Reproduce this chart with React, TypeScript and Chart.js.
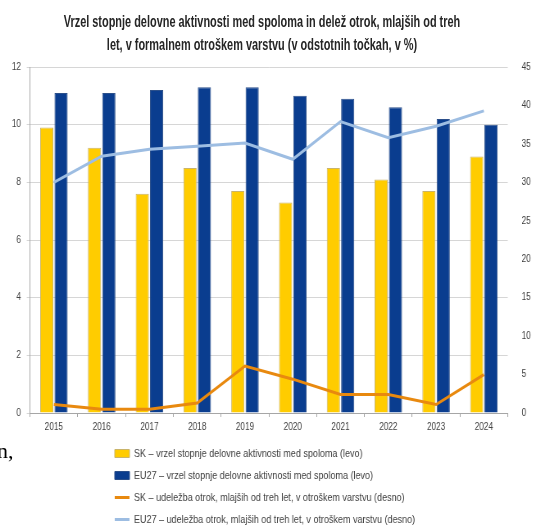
import React, { useEffect, useRef } from "react";
import { Chart, registerables } from "chart.js";

Chart.register(...registerables);

const years = ["2015", "2016", "2017", "2018", "2019", "2020", "2021", "2022", "2023", "2024"];
const skGap = [9.9, 9.2, 7.6, 8.5, 7.7, 7.3, 8.5, 8.1, 7.7, 8.9];
const euGap = [11.1, 11.1, 11.2, 11.3, 11.3, 11.0, 10.9, 10.6, 10.2, 10.0];
const skChildcare = [1.1, 0.5, 0.5, 1.3, 6.1, 4.4, 2.4, 2.4, 1.1, 5.0];
const euChildcare = [30.0, 33.4, 34.3, 34.7, 35.1, 33.0, 37.9, 35.8, 37.3, 39.3];

const titleLines = [
  "Vrzel stopnje delovne aktivnosti med spoloma in delež otrok, mlajših od treh",
  "let, v formalnem otroškem varstvu (v odstotnih točkah, v %)",
];
const seriesLabels = [
  "SK – vrzel stopnje delovne aktivnosti med spoloma (levo)",
  "EU27 – vrzel stopnje delovne aktivnosti med spoloma (levo)",
  "SK – udeležba otrok, mlajših od treh let, v otroškem varstvu (desno)",
  "EU27 – udeležba otrok, mlajših od treh let, v otroškem varstvu (desno)",
];

const FONT = "'Liberation Sans', Arial, sans-serif";
const TEXT = "#404040";
const SX = 0.8196; // horizontal squeeze of the whole chart
const LOGICAL_W = 654;

const legendShift = {
  id: "legendShift",
  beforeLayout(chart: any) {
    const lg = chart.legend;
    if (lg && !lg._oneColumn) {
      const orig = lg.fit.bind(lg);
      lg.fit = function () {
        const mw = this.maxWidth;
        this.maxWidth = 400; // force one item per row
        orig();
        this.maxWidth = mw;
        this.width = mw;
      };
      lg._oneColumn = true;
    }
  },
  afterLayout(chart: any) {
    if (chart.legend) {
      chart.legend.left = 129;
    }
  },
};

export default function App() {
  const ref = useRef<HTMLCanvasElement | null>(null);

  useEffect(() => {
    if (!ref.current) return;
    const chart = new Chart(ref.current, {
      type: "bar",
      data: {
        labels: years,
        datasets: [
          {
            type: "bar",
            label: seriesLabels[0],
            data: skGap,
            backgroundColor: "#FFCC00",
            borderColor: "#c9b46a",
            borderWidth: 1,
            yAxisID: "y",
            order: 1,
            pointStyle: "rect",
            categoryPercentage: 0.6,
            barPercentage: 0.92,
          } as any,
          {
            type: "bar",
            label: seriesLabels[1],
            data: euGap,
            backgroundColor: "#0a3d8f",
            borderColor: "#2b4f8a",
            borderWidth: 1,
            yAxisID: "y",
            order: 1,
            pointStyle: "rect",
            categoryPercentage: 0.6,
            barPercentage: 0.92,
          } as any,
          {
            type: "line",
            label: seriesLabels[2],
            data: skChildcare,
            borderColor: "#E8890F",
            backgroundColor: "#E8890F",
            borderWidth: 3,
            pointRadius: 0,
            pointStyle: "line",
            tension: 0,
            yAxisID: "y1",
            order: 0,
          } as any,
          {
            type: "line",
            label: seriesLabels[3],
            data: euChildcare,
            borderColor: "#9dbde2",
            backgroundColor: "#9dbde2",
            borderWidth: 3,
            pointRadius: 0,
            pointStyle: "line",
            tension: 0,
            yAxisID: "y1",
            order: 0,
          } as any,
        ],
      },
      options: {
        responsive: true,
        maintainAspectRatio: false,
        animation: false,
        layout: { padding: { left: 0, right: 0, top: 67, bottom: -10 } },
        plugins: {
          title: { display: false },
          legend: {
            display: true,
            position: "bottom",
            align: "start",
            labels: {
              usePointStyle: true,
              pointStyleWidth: 18,
              boxHeight: 8,
              padding: 11,
              color: TEXT,
              font: { family: FONT, size: 11 },
              sort: (a: any, b: any) => a.datasetIndex - b.datasetIndex,
            },
          },
          tooltip: { enabled: false },
        },
        scales: {
          x: {
            type: "category",
            offset: true,
            grid: {
              offset: true,
              drawOnChartArea: false,
              tickLength: 4,
              color: "#a6a6a6",
            },
            border: { display: true, color: "#a6a6a6" },
            ticks: { color: TEXT, font: { family: FONT, size: 10 }, padding: 4 },
          },
          y: {
            type: "linear",
            position: "left",
            min: 0,
            max: 12,
            ticks: { stepSize: 2, color: TEXT, font: { family: FONT, size: 10 }, padding: 7 },
            grid: { color: "#d6d6d6", tickLength: 4 },
            border: { display: true, color: "#a6a6a6" },
            afterFit: (scale: any) => {
              scale.width = 36.6;
            },
          },
          y1: {
            type: "linear",
            position: "right",
            min: 0,
            max: 45,
            ticks: { stepSize: 5, color: TEXT, font: { family: FONT, size: 10 }, padding: 17 },
            grid: { drawOnChartArea: false, drawTicks: false },
            border: { display: false },
            afterFit: (scale: any) => {
              scale.width = 34.5;
            },
          },
        },
      },
      plugins: [legendShift],
    });
    return () => chart.destroy();
  }, []);

  const titleStyle = (top: number): React.CSSProperties => ({
    position: "absolute",
    left: 262,
    top,
    whiteSpace: "nowrap",
    fontFamily: FONT,
    fontWeight: "bold",
    fontSize: 16,
    lineHeight: "16px",
    color: "#262626",
    transform: "translateX(-50%) scaleX(0.683)",
    transformOrigin: "center",
  });

  return (
    <div style={{ position: "absolute", left: 0, top: 0, width: 536, height: 525, background: "#fff", overflow: "hidden" }}>
      <div
        style={{
          position: "absolute",
          left: 0,
          top: 0,
          width: LOGICAL_W,
          height: 525,
          transform: `scaleX(${SX})`,
          transformOrigin: "0 0",
        }}
      >
        <canvas ref={ref} />
      </div>
      <div style={titleStyle(14)}>{titleLines[0]}</div>
      <div style={titleStyle(37)}>{titleLines[1]}</div>
      <span
        style={{
          position: "absolute",
          left: -3,
          top: 440,
          fontFamily: "'Liberation Serif', 'DejaVu Serif', serif",
          fontSize: 22,
          lineHeight: "22px",
          color: "#000",
        }}
      >
        n,
      </span>
    </div>
  );
}
